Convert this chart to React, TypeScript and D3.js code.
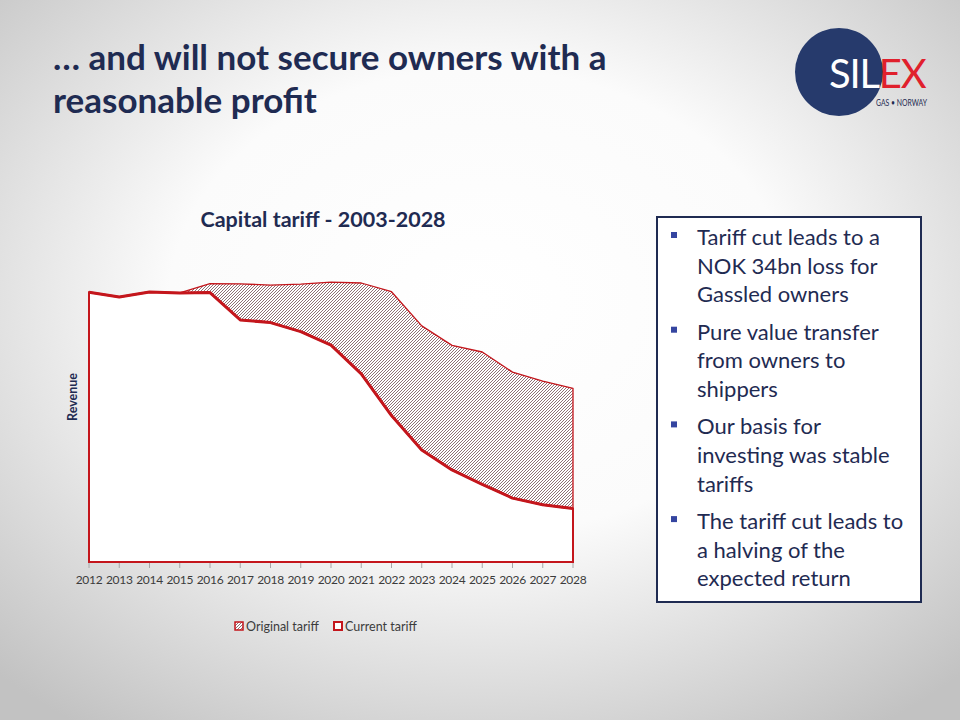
import React from 'react';
import * as d3 from 'd3';

const years = [2012, 2013, 2014, 2015, 2016, 2017, 2018, 2019, 2020, 2021, 2022, 2023, 2024, 2025, 2026, 2027, 2028];
const currentTariff = [89.9, 88.3, 90.0, 89.7, 89.8, 80.7, 79.8, 76.8, 72.3, 62.7, 48.8, 37.3, 30.7, 25.9, 21.3, 19.1, 17.8];
const originalTariff = [89.9, 88.3, 90.0, 89.7, 92.8, 92.7, 92.3, 92.6, 93.3, 93.0, 90.1, 78.7, 72.2, 70.0, 63.3, 60.3, 57.9];
const titleLines = ['\u2026 and will not secure owners with a', 'reasonable profit'];
const chartTitle = 'Capital tariff - 2003-2028';
const yAxisLabel = 'Revenue';
const legendLabels = ['Original tariff', 'Current tariff'];
const bullets = [
  ['Tariff cut leads to a', 'NOK 34bn loss for', 'Gassled owners'],
  ['Pure value transfer', 'from owners to', 'shippers'],
  ['Our basis for', 'investing was stable', 'tariffs'],
  ['The tariff cut leads to', 'a halving of the', 'expected return'],
];

const NAVY = '#1f2b52';
const RED = '#c4161c';
const FONT = 'Lato, "Open Sans", sans-serif';

export default function App() {
  const x = d3.scalePoint<number>().domain(years).range([89, 573]);
  const y = d3.scaleLinear().domain([0, 100]).range([562, 262]);

  const areaGen = d3.area<number>()
    .x((_, i) => x(years[i])!)
    .y0(y(0))
    .y1((d) => y(d));
  const lineGen = d3.line<number>()
    .x((_, i) => x(years[i])!)
    .y((d) => y(d));

  const lineH = 28.6;
  const paraGap = 37.5;
  let yy = 245;
  const bulletRows: { text: string; y: number; first: boolean }[] = [];
  bullets.forEach((b) => {
    b.forEach((t, j) => {
      bulletRows.push({ text: t, y: yy, first: j === 0 });
      yy += j === b.length - 1 ? paraGap : lineH;
    });
  });

  return (
    <div style={{ position: 'absolute', left: 0, top: 0 }}>
      <svg width={960} height={720} style={{ display: 'block' }}>
        <defs>
          <radialGradient id="bg" cx="50%" cy="42%" r="72%">
            <stop offset="0%" stopColor="#ffffff" />
            <stop offset="45%" stopColor="#fbfbfb" />
            <stop offset="100%" stopColor="#c2c2c2" />
          </radialGradient>
          <pattern id="hatch" patternUnits="userSpaceOnUse" width={3} height={3}>
            <rect width={3} height={3} fill="#ffffff" />
            <path d="M-1,1 l2,-2 M0,3 l3,-3 M2,4 l2,-2" stroke="#806166" strokeWidth={0.9} />
          </pattern>
        </defs>
        <rect width={960} height={720} fill="url(#bg)" />

        {/* Title */}
        <g fill={NAVY} fontFamily={FONT} fontWeight={700} fontSize={35}>
          {titleLines.map((t, i) => (
            <text key={i} x={53} y={70 + i * 43}>{t}</text>
          ))}
        </g>

        {/* Logo */}
        <g>
          <circle cx={839} cy={72} r={44} fill="#263a6c" />
          <text x={829} y={88} fontFamily={FONT} fontSize={40} fill="#ffffff" letterSpacing={-1.2}>
            SIL<tspan fill="#e0202c">EX</tspan>
          </text>
          <text x={876} y={105.5} fontFamily={FONT} fontSize={8.5} fill={NAVY} textLength={51} lengthAdjust="spacingAndGlyphs">GAS {'\u2022'} NORWAY</text>
        </g>

        {/* Chart title */}
        <text x={323} y={227} textAnchor="middle" fontFamily={FONT} fontWeight={700} fontSize={21.5} fill={NAVY}>
          {chartTitle}
        </text>

        {/* Y axis label */}
        <text transform="translate(77,397) rotate(-90)" textAnchor="middle" fontFamily={FONT} fontWeight={700} fontSize={12.5} fill={NAVY}>
          {yAxisLabel}
        </text>

        {/* Areas */}
        <path d={areaGen(originalTariff)!} fill="url(#hatch)" stroke={RED} strokeWidth={1.3} strokeLinejoin="round" />
        <path d={areaGen(currentTariff)!} fill="#ffffff" stroke={RED} strokeWidth={2} />
        <path d={lineGen(currentTariff)!} fill="none" stroke={RED} strokeWidth={3} strokeLinejoin="round" />

        {/* X axis ticks & labels */}
        <g>
          {years.map((yr) => (
            <g key={yr}>
              <line x1={x(yr)!} x2={x(yr)!} y1={y(0) + 1} y2={y(0) + 6} stroke="#a6a6a6" strokeWidth={1} />
              <text x={x(yr)!} y={584} textAnchor="middle" fontFamily={FONT} fontSize={12} letterSpacing={-0.3} fill="#3c3c3c">{yr}</text>
            </g>
          ))}
        </g>

        {/* Legend */}
        <g fontFamily={FONT} fontSize={12.5} fill="#3c3c3c">
          <rect x={235} y={622} width={8} height={8} fill="url(#hatch)" stroke={RED} strokeWidth={1.5} />
          <text x={246} y={631}>{legendLabels[0]}</text>
          <rect x={334} y={622} width={8} height={8} fill="#ffffff" stroke={RED} strokeWidth={2} />
          <text x={345} y={631}>{legendLabels[1]}</text>
        </g>

        {/* Bullet box */}
        <rect x={657} y={217} width={264} height={385} fill="#ffffff" stroke={NAVY} strokeWidth={2} />
        <g fontFamily={FONT} fontSize={22} fill={NAVY}>
          {bulletRows.map((r, i) => (
            <g key={i}>
              {r.first && <rect x={671} y={r.y - 13} width={6} height={6} fill="#3545a0" />}
              <text x={697} y={r.y}>{r.text}</text>
            </g>
          ))}
        </g>
      </svg>
    </div>
  );
}
